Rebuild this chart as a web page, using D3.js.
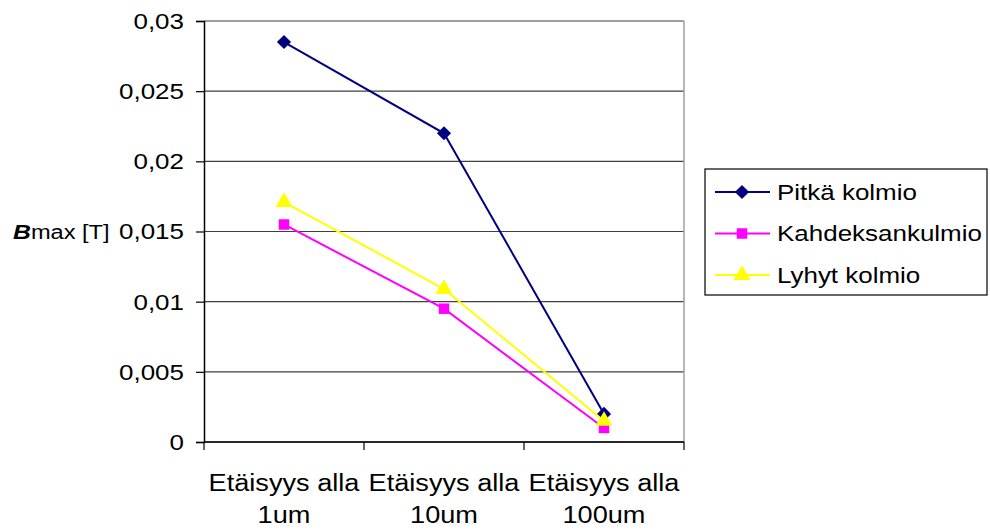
<!DOCTYPE html>
<html>
<head>
<meta charset="utf-8">
<script src="https://cdn.jsdelivr.net/npm/d3@7"></script>
<style>
  body { margin: 0; background: #fff; }
  svg { display: block; font-family: "Liberation Sans", Arial, sans-serif; }
</style>
</head>
<body>
<svg id="chart" width="990" height="530"></svg>
<script>
// Distance categories (two-line labels)
const categories = ["Etäisyys alla\n1um", "Etäisyys alla\n10um", "Etäisyys alla\n100um"];
const yTicks = [0, 0.005, 0.01, 0.015, 0.02, 0.025, 0.03];
const seriesNames = ["Pitkä kolmio", "Kahdeksankulmio", "Lyhyt kolmio"];
const pitka = [0.0285, 0.022, 0.002];
const kahdeksan = [0.0155, 0.0095, 0.001];
const lyhyt = [0.0171, 0.0109, 0.0015];

const series = [
  { name: seriesNames[0], values: pitka, color: "#000080", symbol: "diamond" },
  { name: seriesNames[1], values: kahdeksan, color: "#ff00ff", symbol: "square" },
  { name: seriesNames[2], values: lyhyt, color: "#ffff00", symbol: "triangle" }
];

const STRETCH = 1.18; // horizontal widening of all text

const svg = d3.select("#chart");
const plot = { left: 204, right: 684, top: 21, bottom: 442 };

const x = d3.scaleBand().domain(categories).range([plot.left, plot.right]).padding(0);
const y = d3.scaleLinear().domain([0, 0.03]).range([plot.bottom, plot.top]);
const fmt = v => String(+v.toFixed(3)).replace(".", ",");

// Horizontal gridlines
svg.append("g").selectAll("line").data(yTicks).join("line")
  .attr("x1", plot.left).attr("x2", plot.right)
  .attr("y1", d => y(d)).attr("y2", d => y(d))
  .attr("stroke", "#404040").attr("stroke-width", 1.2);

// Right border of plot area
svg.append("line")
  .attr("x1", plot.right).attr("x2", plot.right)
  .attr("y1", plot.top).attr("y2", plot.bottom)
  .attr("stroke", "#a0a0a0").attr("stroke-width", 1.5);

// Y axis
const yAxis = d3.axisLeft(y).tickValues(yTicks).tickFormat(fmt).tickSize(8).tickPadding(12);
const gy = svg.append("g").attr("transform", `translate(${plot.left},0)`).call(yAxis);
gy.attr("font-family", null).attr("font-size", null);
gy.select(".domain").attr("stroke", "#000").attr("stroke-width", 1.5);
gy.selectAll(".tick line").attr("stroke", "#000").attr("stroke-width", 1.2);
gy.selectAll(".tick text").attr("font-size", 22).attr("fill", "#000").attr("dy", "0.34em");

// X axis: ticks at category boundaries, labels centered in bands
const gx = svg.append("g").attr("transform", `translate(0,${plot.bottom})`);
gx.append("line").attr("x1", plot.left).attr("x2", plot.right)
  .attr("y1", 0).attr("y2", 0).attr("stroke", "#000").attr("stroke-width", 1.5);
const bounds = categories.map(c => x(c)).concat([x(categories[categories.length - 1]) + x.bandwidth()]);
gx.selectAll("line.tk").data(bounds).join("line").attr("class", "tk")
  .attr("x1", d => d).attr("x2", d => d).attr("y1", 0).attr("y2", 8)
  .attr("stroke", "#000").attr("stroke-width", 1.2);
gx.selectAll("text").data(categories).join("text")
  .attr("text-anchor", "middle").attr("font-size", 23).attr("fill", "#000")
  .each(function (d) {
    const t = d3.select(this);
    const cxv = x(d) + x.bandwidth() / 2;
    d.split("\n").forEach((ln, i) => {
      t.append("tspan").attr("x", cxv).attr("y", 49 + i * 32).text(ln);
    });
  });

// Y axis title
const yt = svg.append("text").attr("x", 13).attr("y", 239).attr("font-size", 20).attr("fill", "#000");
yt.append("tspan").attr("font-weight", "bold").attr("font-style", "italic").attr("font-size", 21).text("B");
yt.append("tspan").text("max [T]");

// Lines and markers
const cx = c => x(c) + x.bandwidth() / 2;
const line = d3.line().x(d => cx(d.c)).y(d => y(d.v));
const symbolType = { diamond: d3.symbolSquare, square: d3.symbolSquare, triangle: d3.symbolTriangle };
const symbolSize = { diamond: 100, square: 110, triangle: 125 };
const symbolRot = { diamond: 45, square: 0, triangle: 0 };

series.forEach(s => {
  const pts = s.values.map((v, i) => ({ c: categories[i], v }));
  svg.append("path").datum(pts).attr("d", line)
    .attr("fill", "none").attr("stroke", s.color).attr("stroke-width", 2);
  svg.append("g").selectAll("path").data(pts).join("path")
    .attr("transform", d => `translate(${cx(d.c)},${y(d.v)}) rotate(${symbolRot[s.symbol]})`)
    .attr("d", d3.symbol().type(symbolType[s.symbol]).size(symbolSize[s.symbol]))
    .attr("fill", s.color);
});

// Legend
const lg = svg.append("g");
lg.append("rect").attr("x", 705).attr("y", 169).attr("width", 282).attr("height", 126)
  .attr("fill", "#fff").attr("stroke", "#000").attr("stroke-width", 1.2);
const ly = d3.scalePoint().domain(seriesNames).range([192, 275]);
series.forEach(s => {
  const g = lg.append("g").attr("transform", `translate(0,${ly(s.name)})`);
  g.append("line").attr("x1", 715).attr("x2", 770).attr("y1", 0).attr("y2", 0)
    .attr("stroke", s.color).attr("stroke-width", 2);
  g.append("path").attr("transform", `translate(742,0) rotate(${symbolRot[s.symbol]})`)
    .attr("d", d3.symbol().type(symbolType[s.symbol]).size(symbolSize[s.symbol]))
    .attr("fill", s.color);
  g.append("text").attr("x", 777).attr("y", 0).attr("dy", "0.35em")
    .attr("font-size", 22).attr("fill", "#000").text(s.name);
});

// Widen every text run horizontally
svg.selectAll("text").each(function () {
  const el = d3.select(this);
  const spans = el.selectAll("tspan");
  if (!spans.empty() && el.attr("x") === null) {
    spans.each(function () {
      const w = this.getComputedTextLength();
      d3.select(this).attr("textLength", w * STRETCH).attr("lengthAdjust", "spacingAndGlyphs");
    });
  } else {
    const w = this.getComputedTextLength();
    el.attr("textLength", w * STRETCH).attr("lengthAdjust", "spacingAndGlyphs");
  }
});
</script>
</body>
</html>
